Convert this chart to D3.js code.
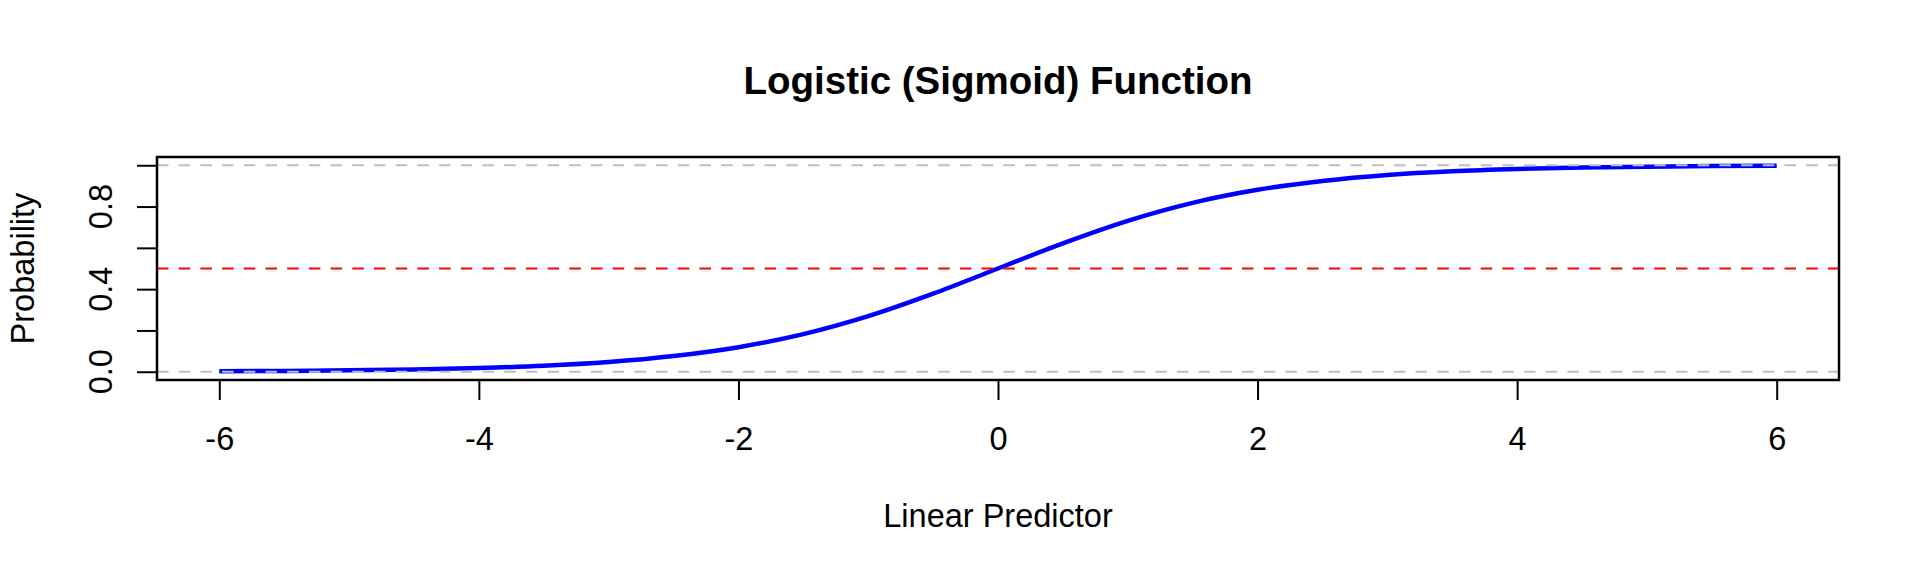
<!DOCTYPE html>
<html lang="en">
<head>
  <meta charset="UTF-8">
  <title>Logistic (Sigmoid) Function</title>
  <script src="https://cdn.jsdelivr.net/npm/d3@7"></script>
  <style>
  body{
    margin: 0;
    background: #fff;
  }
  .titulo{
    font-family: 'Liberation Sans', Arial, sans-serif;
    font-weight: 700;
    font-size: 38.5px;
    fill: #000;
  }
  .etiqueta, .axis text{
    font-family: 'Liberation Sans', Arial, sans-serif;
    font-weight: 400;
    font-size: 32.5px;
    fill: #000;
  }
  .axis line{
    stroke: #000;
    stroke-width: 2px;
  }
  </style>
</head>
<body>
  <div id="grafico"></div>

  <script>
    // valores
    var predictor = [-6, -5.5, -5, -4.5, -4, -3.5, -3, -2.5, -2, -1.5, -1, -0.5, 0,
                     0.5, 1, 1.5, 2, 2.5, 3, 3.5, 4, 4.5, 5, 5.5, 6];
    var probabilidad = [0.0025, 0.004, 0.007, 0.011, 0.018, 0.029, 0.047, 0.076, 0.119, 0.182, 0.269, 0.378, 0.5,
                        0.622, 0.731, 0.818, 0.881, 0.924, 0.953, 0.971, 0.982, 0.989, 0.993, 0.996, 0.998];
    var ticksX = [-6, -4, -2, 0, 2, 4, 6];
    var ticksY = [0, 0.2, 0.4, 0.6, 0.8, 1];
    var etiquetasY = [0, 0.4, 0.8];
    var lineasGris = [0, 1];
    var lineaRoja = [0.5];

    var w = 1920;
    var h = 576;
    var izq = 157, der = 1839, arriba = 157, abajo = 380;

    var grafico = d3.select("#grafico")
      .append("svg")
      .attr("width", w)
      .attr("height", h);

    //Escalas (rango extendido 4% como en R)
    var xScale = d3.scaleLinear()
      .domain([-6.48, 6.48])
      .range([izq, der]);

    var yScale = d3.scaleLinear()
      .domain([-0.04, 1.04])
      .range([abajo, arriba]);

    var datos = predictor.map(function(d, i){ return [d, probabilidad[i]]; });

    //Curva
    var linea = d3.line()
      .x(function(d){ return xScale(d[0]); })
      .y(function(d){ return yScale(d[1]); })
      .curve(d3.curveMonotoneX);

    grafico.append("path")
      .datum(datos)
      .attr("d", linea)
      .attr("fill", "none")
      .attr("stroke", "#0000ff")
      .attr("stroke-width", 4.5);

    //Lineas horizontales
    grafico.selectAll(".gris")
      .data(lineasGris)
      .enter()
      .append("line")
      .attr("x1", izq)
      .attr("x2", der)
      .attr("y1", function(d){ return yScale(d); })
      .attr("y2", function(d){ return yScale(d); })
      .attr("stroke", "#bebebe")
      .attr("stroke-width", 2)
      .attr("stroke-dasharray", "11.5,10.2");

    grafico.selectAll(".roja")
      .data(lineaRoja)
      .enter()
      .append("line")
      .attr("x1", izq)
      .attr("x2", der)
      .attr("y1", function(d){ return yScale(d); })
      .attr("y2", function(d){ return yScale(d); })
      .attr("stroke", "#ff0000")
      .attr("stroke-width", 2)
      .attr("stroke-dasharray", "11.5,10.2");

    //Caja
    grafico.append("rect")
      .attr("x", izq)
      .attr("y", arriba)
      .attr("width", der - izq)
      .attr("height", abajo - arriba)
      .attr("fill", "none")
      .attr("stroke", "#000")
      .attr("stroke-width", 2.5);

    //Eje X
    var xAxis = d3.axisBottom(xScale)
      .tickValues(ticksX)
      .tickSize(20)
      .tickPadding(0)
      .tickFormat(function(d){ return d; });

    var ejeX = grafico.append("g")
      .attr("class", "axis")
      .attr("transform", "translate(0," + abajo + ")")
      .call(xAxis);
    ejeX.select(".domain").remove();
    ejeX.selectAll("text")
      .attr("y", 70)
      .attr("dy", 0)
      .text(function(d){ return d < 0 ? "-" + Math.abs(d) : d; });

    //Eje Y
    var yAxis = d3.axisLeft(yScale)
      .tickValues(ticksY)
      .tickSize(20)
      .tickFormat("");

    var ejeY = grafico.append("g")
      .attr("class", "axis")
      .attr("transform", "translate(" + izq + ",0)")
      .call(yAxis);
    ejeY.select(".domain").remove();

    grafico.selectAll(".cifrasY")
      .data(etiquetasY)
      .enter()
      .append("text")
      .attr("class", "etiqueta")
      .attr("text-anchor", "middle")
      .attr("transform", function(d){
        return "translate(112," + yScale(d) + ") rotate(-90)"; })
      .text(function(d){ return d.toFixed(1); });

    //Titulos
    grafico.append("text")
      .attr("class", "titulo")
      .attr("text-anchor", "middle")
      .attr("x", (izq + der) / 2)
      .attr("y", 94)
      .text("Logistic (Sigmoid) Function");

    grafico.append("text")
      .attr("class", "etiqueta")
      .attr("text-anchor", "middle")
      .attr("x", (izq + der) / 2)
      .attr("y", 527)
      .text("Linear Predictor");

    grafico.append("text")
      .attr("class", "etiqueta")
      .attr("text-anchor", "middle")
      .attr("transform", "translate(34," + (arriba + abajo) / 2 + ") rotate(-90)")
      .text("Probability");
  </script>
</body>
</html>
